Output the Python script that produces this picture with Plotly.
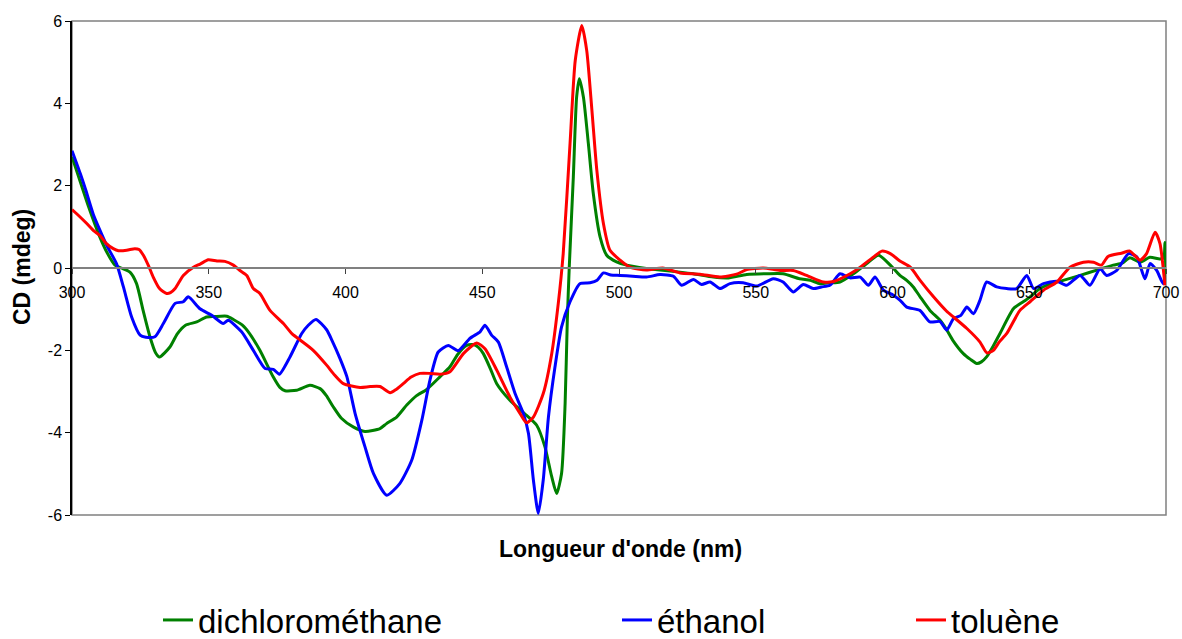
import plotly.graph_objects as go

# ---- data ----
wl_green = [300, 303, 306, 310.2, 313, 315.7, 318, 321.2, 323.6, 326, 328.5, 330.5, 332, 335.8, 338.5, 341.5,
            345.6, 349.2, 352, 356.6, 359, 362.3, 365, 368.7, 373.6, 376, 377.9, 382.1, 387, 390.7, 393, 395.5,
            398.5, 402.8, 407.1, 412.6, 415, 418.7, 422.4, 426, 429.7, 434.6, 438.2, 441, 444.3, 446.7, 448.5,
            450.4, 453, 455.3, 460.1, 466.2, 469.9, 472.9, 475.4, 477.2, 479, 480.3, 481.1, 481.8, 483.3, 484.5,
            485.5, 487, 488.8, 490.6, 493.1, 495.5, 499.1, 502.8, 510, 515, 522.3, 527.2, 534.5, 540, 546.7,
            554, 560, 566, 570, 573.5, 577, 580.8, 585.7, 590.6, 594.9, 599.2, 602.7, 605.2, 607.6, 610.1,
            613.7, 617.4, 619.8, 622, 625.9, 628.5, 630.8, 632.5, 634.4, 636.8, 639.3, 644.2, 647.8, 650,
            653.9, 658, 662.4, 668.6, 674.7, 680.7, 684, 686.8, 690.5, 694.1, 697.8, 699.2, 699.6, 700]
cd_green = [2.7, 2.1, 1.5, 0.75, 0.35, 0.07, 0.0, -0.1, -0.38, -1.03, -1.67, -2.05, -2.16, -1.92, -1.6, -1.39,
            -1.31, -1.19, -1.18, -1.17, -1.25, -1.39, -1.6, -2.0, -2.65, -2.9, -2.98, -2.97, -2.85, -2.93, -3.1,
            -3.37, -3.65, -3.86, -3.97, -3.9, -3.78, -3.62, -3.33, -3.1, -2.95, -2.64, -2.4, -2.1, -1.88, -1.86,
            -1.92, -2.08, -2.45, -2.81, -3.21, -3.58, -3.82, -4.34, -5.07, -5.48, -4.99, -3.29, -1.27, 0.0, 2.21,
            4.15, 4.6, 4.15, 3.02, 1.81, 0.75, 0.31, 0.15, 0.07, -0.01, -0.05, -0.1, -0.14, -0.22, -0.24, -0.16,
            -0.14, -0.14, -0.26, -0.3, -0.38, -0.36, -0.34, -0.14, 0.11, 0.31, 0.07, -0.18, -0.3, -0.46, -0.7,
            -1.03, -1.27, -1.5, -1.75, -2.08, -2.22, -2.32, -2.28, -2.16, -1.9, -1.59, -0.99, -0.82, -0.72,
            -0.5, -0.38, -0.3, -0.18, -0.05, 0.07, 0.12, 0.25, 0.14, 0.26, 0.22, 0.25, 0.62, -0.3]

wl_blue = [300, 303, 305, 307.8, 310, 312.7, 316.3, 318.8, 321.8, 324.9, 327, 330.3, 333.4, 337.7, 340.7, 342.5,
           346.8, 351.1, 355.3, 357.1, 362, 366.3, 370.6, 373.6, 375.8, 379.7, 384, 386.4, 389.2, 393.1, 395,
           398, 400.5, 403.5, 407.1, 410.2, 415.1, 419.9, 424.2, 427.9, 430.9, 433.9, 437.6, 441.2, 445.5,
           449.2, 451, 453.4, 455.9, 458.9, 462, 465, 466.9, 468.7, 470.5, 472.3, 474.2, 476.6, 479, 482.1,
           485.7, 489.4, 492, 494.3, 497, 500.4, 505, 510.1, 515, 519.9, 522.9, 527.2, 530.2, 533.3, 536.9,
           540.6, 545.4, 550.3, 556.4, 560, 563.7, 567.4, 571, 574, 577.1, 580.8, 584.5, 588.2, 591.2, 593.6,
           596.7, 600.3, 602.7, 605.2, 610, 613.7, 617.4, 619.8, 622.3, 625, 627.2, 629.6, 632, 634.4, 638.1,
           641.8, 645.4, 649.1, 651.6, 655.2, 660.1, 663.7, 668.6, 672.2, 675.9, 678.3, 682, 686.3, 689.3,
           692.3, 694.2, 696.6, 699, 700]
cd_blue = [2.85, 2.3, 1.9, 1.3, 0.95, 0.55, 0.1, -0.46, -1.19, -1.63, -1.68, -1.67, -1.35, -0.86, -0.82, -0.7,
           -0.99, -1.15, -1.35, -1.27, -1.55, -2.0, -2.44, -2.46, -2.58, -2.16, -1.59, -1.39, -1.25, -1.5, -1.75,
           -2.2, -2.64, -3.53, -4.34, -4.99, -5.52, -5.23, -4.67, -3.7, -2.72, -2.04, -1.88, -2.01, -1.71,
           -1.55, -1.39, -1.63, -1.8, -2.4, -3.05, -3.53, -4.02, -5.15, -5.96, -5.15, -3.62, -2.4, -1.43, -0.82,
           -0.38, -0.36, -0.3, -0.12, -0.17, -0.18, -0.2, -0.22, -0.16, -0.2, -0.42, -0.28, -0.4, -0.34, -0.5,
           -0.38, -0.36, -0.44, -0.26, -0.34, -0.58, -0.4, -0.5, -0.46, -0.42, -0.14, -0.24, -0.22, -0.42, -0.22,
           -0.54, -0.66, -0.78, -0.95, -1.03, -1.31, -1.3, -1.51, -1.23, -1.15, -0.95, -1.11, -0.78, -0.34, -0.46,
           -0.5, -0.5, -0.18, -0.5, -0.38, -0.32, -0.42, -0.18, -0.42, -0.02, -0.18, -0.06, 0.35, 0.27,
           -0.26, 0.11, -0.06, -0.38, -0.3]

wl_red = [300, 302, 305.4, 308, 310.2, 312.5, 315.1, 317, 320, 323, 324.5, 326.1, 328, 329.7, 332, 334.6, 336,
          337.7, 340.7, 344.4, 347, 349.8, 353, 355.9, 359, 361.4, 363.9, 366.3, 368.7, 372.4, 377.3, 380.5,
          383.4, 388.2, 393.1, 396, 399.2, 405.3, 409, 412.6, 416.3, 418.5, 421.1, 424, 427.2, 431, 434.6,
          438.2, 443.1, 448, 451, 455.3, 460.1, 463.8, 466.2, 468.7, 472.3, 475.4, 477.8, 479.6, 482.1, 484,
          486.4, 488.2, 490.1, 491.9, 494.3, 496.7, 500.4, 504, 510, 516, 522.3, 529.6, 536.9, 543, 546.7,
          552.7, 558.9, 563.7, 568.6, 574.7, 578.4, 584.5, 588.2, 593.1, 596.1, 599.2, 602.7, 606.5, 610.1,
          615, 619.8, 622.3, 627.2, 632, 634.5, 636.9, 639, 641.8, 646.6, 650.3, 655.2, 660.1, 664.9, 669.8,
          673.5, 676.4, 678.8, 683.7, 686.8, 690.5, 692.9, 696, 697.8, 699.6]
cd_red = [1.42, 1.3, 1.08, 0.9, 0.79, 0.6, 0.47, 0.42, 0.43, 0.47, 0.45, 0.31, 0.05, -0.22, -0.5, -0.62, -0.6,
          -0.5, -0.18, 0.02, 0.1, 0.2, 0.17, 0.16, 0.07, -0.06, -0.18, -0.5, -0.62, -1.03, -1.35, -1.6,
          -1.75, -2.0, -2.36, -2.6, -2.81, -2.9, -2.88, -2.88, -3.03, -2.95, -2.81, -2.65, -2.56, -2.56, -2.58,
          -2.52, -2.08, -1.82, -1.96, -2.48, -3.13, -3.53, -3.76, -3.62, -3.05, -2.08, -0.86, 0.35, 3.02, 5.04,
          5.89, 5.28, 3.83, 2.37, 1.08, 0.43, 0.19, 0.02, -0.05, 0.0, -0.12, -0.15, -0.22, -0.15, -0.04,
          0.0, -0.06, -0.06, -0.18, -0.34, -0.33, -0.14, 0.02, 0.27, 0.41, 0.35, 0.17, 0.02, -0.3,
          -0.7, -1.05, -1.19, -1.47, -1.8, -2.06, -2.0, -1.8, -1.59, -1.03, -0.82, -0.54, -0.34, 0.02, 0.14,
          0.14, 0.07, 0.28, 0.36, 0.41, 0.19, 0.35, 0.87, 0.59, -0.42]

series_names = ["dichlorométhane", "éthanol", "toluène"]
series_colors = ["#008000", "#0000FF", "#FF0000"]

x_ticks = [300, 350, 400, 450, 500, 550, 600, 650, 700]
y_ticks = [-6, -4, -2, 0, 2, 4, 6]

FONT = "Liberation Sans, Arial, sans-serif"

fig = go.Figure()
data = [(wl_green, cd_green), (wl_blue, cd_blue), (wl_red, cd_red)]
legend_ids = ["legend", "legend2", "legend3"]
for (xs, ys), name, col, lg in zip(data, series_names, series_colors, legend_ids):
    fig.add_trace(go.Scatter(x=xs, y=ys, mode="lines", name=name, showlegend=True,
                             line=dict(color=col, width=3, shape="spline", smoothing=0.6),
                             legend=lg))

W, H = 1182, 639
ml, mr, mt, mb = 72, 16, 21, 124
pw, ph = W - ml - mr, H - mt - mb

def px_x(p):
    return (p - ml) / pw

def px_y(p):
    return (H - mb - p) / ph

legend_common = dict(orientation="h", xanchor="left", yanchor="middle",
                     font=dict(family=FONT, size=33, color="#000000"),
                     bgcolor="rgba(0,0,0,0)", itemwidth=30, visible=True)

fig.update_layout(
    width=W, height=H, showlegend=True,
    margin=dict(l=ml, r=mr, t=mt, b=mb, autoexpand=False),
    paper_bgcolor="white", plot_bgcolor="white",
    font=dict(family=FONT, color="#000000"),
    legend=dict(x=px_x(158), y=px_y(620), **legend_common),
    legend2=dict(x=px_x(617), y=px_y(620), **legend_common),
    legend3=dict(x=px_x(911), y=px_y(620), **legend_common),
    xaxis=dict(range=[300, 700], tickvals=x_ticks, ticktext=[str(v) for v in x_ticks],
               anchor="free", position=0.5,
               showline=True, linecolor="#808080", linewidth=1.5,
               ticks="outside", ticklen=5, tickcolor="#404040",
               tickfont=dict(family=FONT, size=16, color="#000000"),
               ticklabelstandoff=5,
               showgrid=False, zeroline=False),
    yaxis=dict(range=[-6, 6], tickvals=y_ticks, ticktext=[str(v) for v in y_ticks],
               showline=True, linecolor="#000000", linewidth=1.5,
               ticks="outside", ticklen=5, tickcolor="#000000",
               tickfont=dict(family=FONT, size=16, color="#000000"),
               showgrid=False, zeroline=False),
    shapes=[dict(type="rect", xref="paper", yref="paper", x0=0, x1=1, y0=0, y1=1,
                 line=dict(color="#808080", width=1.5), layer="below")],
    annotations=[
        dict(text="<b>Longueur d'onde (nm)</b>", xref="paper", yref="paper",
             x=px_x(620), y=px_y(549), xanchor="center", yanchor="middle", showarrow=False,
             font=dict(family=FONT, size=23, color="#000000")),
        dict(text="<b>CD (mdeg)</b>", xref="paper", yref="paper",
             x=px_x(22), y=px_y(267), xanchor="center", yanchor="middle", showarrow=False,
             textangle=-90, font=dict(family=FONT, size=23, color="#000000")),
    ],
)

fig.write_html("out.html", config={"displayModeBar": False},
               post_script="document.body.style.margin='0';")
